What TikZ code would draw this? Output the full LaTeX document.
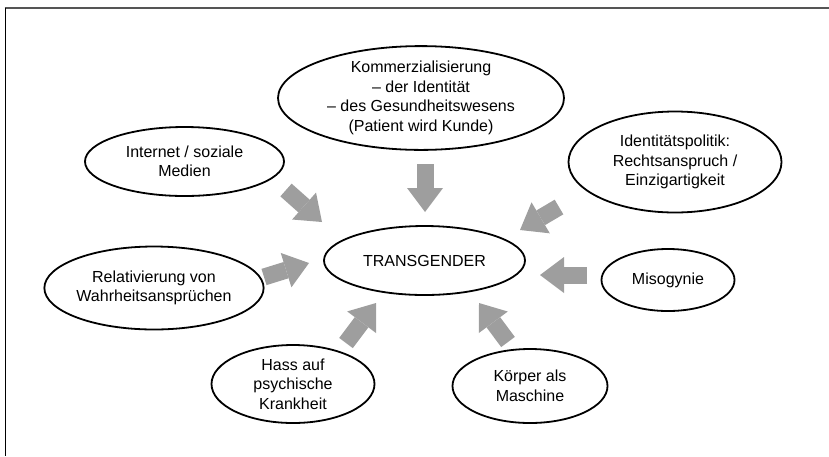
\documentclass[tikz,border=0pt]{standalone}
\usepackage{fontspec}
\setmainfont{Liberation Sans}
\usetikzlibrary{shapes.geometric,arrows.meta}
\definecolor{arrowgray}{RGB}{158,158,158}
\definecolor{framegray}{RGB}{85,85,85}

\begin{document}
\begin{tikzpicture}[
		x=1pt, y=-1pt,
		topic/.style={ellipse,draw=black,line width=1.8pt,inner sep=0pt,
		align=center,font=\fontsize{16}{19.5}\selectfont},
		flow/.style={draw=arrowgray,line width=17pt,
		-{Triangle[length=24pt,width=36pt,line width=0pt]}}
		]
		\useasboundingbox (0,0) rectangle (829,456);
		% frame
		\draw[framegray, line width=2pt] (4.5,7.5) -- (829,7.5);
		\draw[black, line width=1.5pt] (5.5,7.5) -- (5.5,456);
		% topics
		\node[topic, minimum width=201pt, minimum height=69pt] (trans) at (424.5,260.5)
			{TRANSGENDER};
		\node[topic, minimum width=286pt, minimum height=101pt] (komm) at (421,98)
			{Kommerzialisierung\\ – der Identität\\ – des Gesundheitswesens\\ (Patient wird Kunde)};
		\node[topic, minimum width=199pt, minimum height=69pt] (internet) at (184.5,161.5)
			{Internet / soziale\\ Medien};
		\node[topic, minimum width=213pt, minimum height=101pt] (ident) at (675,162)
			{Identitätspolitik:\\ Rechtsanspruch /\\ Einzigartigkeit};
		\node[topic, minimum width=200pt, minimum height=83pt] (relat) at (154,288)
			{Relativierung von\\ Wahrheitsansprüchen};
		\node[topic, minimum width=133pt, minimum height=62pt] (misog) at (668,280)
			{Misogynie};
		\node[topic, minimum width=163pt, minimum height=78pt] (hass) at (293,384)
			{Hass auf\\ psychische\\ Krankheit};
		\node[topic, minimum width=155pt, minimum height=74pt] (koerper) at (530,386)
			{Körper als\\ Maschine};
		% arrow ends
		\coordinate (komm-s) at (425,164);    \coordinate (komm-e) at (425,212);
		\coordinate (internet-s) at (286,190); \coordinate (internet-e) at (322,222);
		\coordinate (ident-s) at (559,207);   \coordinate (ident-e) at (520,230);
		\coordinate (relat-s) at (264,277);   \coordinate (relat-e) at (309,263);
		\coordinate (misog-s) at (587,275);   \coordinate (misog-e) at (540,275);
		\coordinate (hass-s) at (346,343);    \coordinate (hass-e) at (376,303);
		\coordinate (koerper-s) at (508,342); \coordinate (koerper-e) at (479,303);
		\foreach \n in {komm, internet, ident, relat, misog, hass, koerper}
			\draw[flow] (\n-s) -- (\n-e);
	\end{tikzpicture}
\end{document}
